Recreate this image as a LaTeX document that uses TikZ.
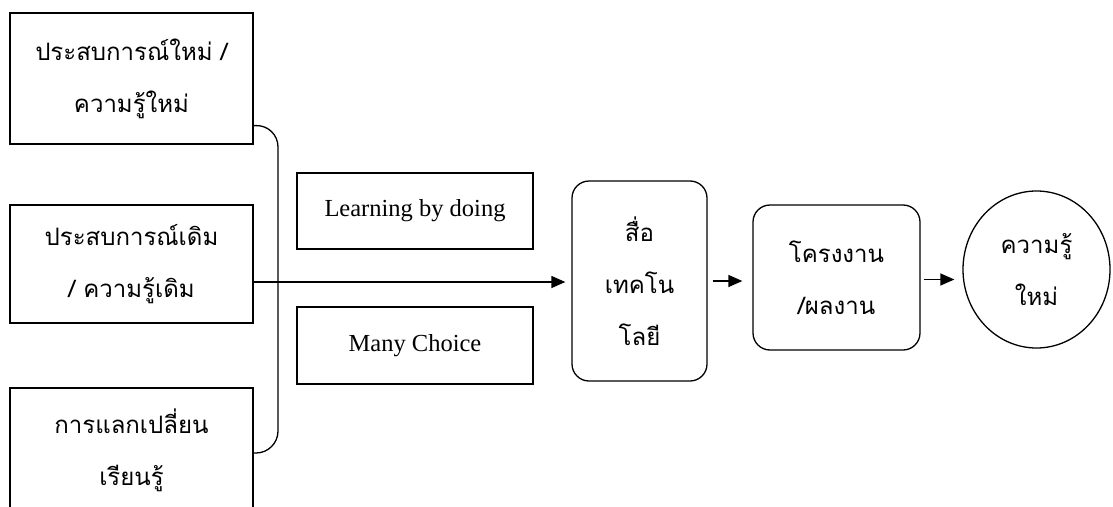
\documentclass[tikz,border=0pt]{standalone}
\usepackage{fontspec}
\setmainfont{Liberation Serif}
\newfontfamily\thaifont[Script=Thai]{Loma}
\usetikzlibrary{arrows.meta,shapes.geometric}

\tikzset{
  plainbox/.style={draw, line width=1.3pt, align=center, inner sep=0pt,
    font=\thaifont\fontsize{24}{52}\selectfont},
  latinbox/.style={draw, line width=1.3pt, inner sep=0pt,
    font=\fontsize{24.5}{30}\selectfont},
  roundbox/.style={plainbox, rounded corners=17pt},
  arr/.style={line width=1.3pt, -{Triangle[length=14pt,width=12pt]}}
}

\begin{document}
\begin{tikzpicture}[x=1pt,y=-1pt]
  \useasboundingbox (0,0) rectangle (1113,506);

  \node[plainbox, minimum width=243pt, minimum height=131pt] (oldnew) at (131.5,78.5) {ประสบการณ์ใหม่ /\\ความรู้ใหม่};
  \node[plainbox, minimum width=243pt, minimum height=118pt] (olddim) at (131.5,264) {ประสบการณ์เดิม\\/ ความรู้เดิม};
  \node[plainbox, minimum width=243pt, minimum height=124pt] (share) at (131.5,450) {การแลกเปลี่ยน\\เรียนรู้};

  \node[latinbox, minimum width=236pt, minimum height=76pt] (doing) at (415,211) {Learning by doing};
  \node[latinbox, minimum width=236pt, minimum height=77pt] (choice) at (415,345.5) {Many Choice};

  \node[roundbox, minimum width=135pt, minimum height=200pt] (media) at (639.5,281) {สื่อ\\เทคโน\\โลยี};
  \node[roundbox, minimum width=167pt, minimum height=145pt] (work) at (836.5,277.5) {โครงงาน\\/ผลงาน};
  \node[plainbox, ellipse, minimum width=147pt, minimum height=157pt] (newknow) at (1036.5,269.5) {ความรู้\\ใหม่};

  % the bracket joining the three sources
  \coordinate (bt) at (278,125);
  \coordinate (bb) at (278,453);
  \draw[line width=1.3pt, rounded corners=22pt] ([yshift=19pt]oldnew.south east) -- (bt) -- (bb) -- (share.east |- bb);

  \coordinate (a0) at ([yshift=-18pt]olddim.east);
  \draw[arr, shorten >=6pt] (a0) -- (a0 -| media.west);
  \draw[arr, shorten <=5pt, shorten >=10pt] (media.east) -- (media.east -| work.west);
  \draw[arr, shorten <=3pt, shorten >=8pt] ([yshift=-2pt]work.east) -- ([yshift=-2pt]work.east -| newknow.west);
\end{tikzpicture}
\end{document}
